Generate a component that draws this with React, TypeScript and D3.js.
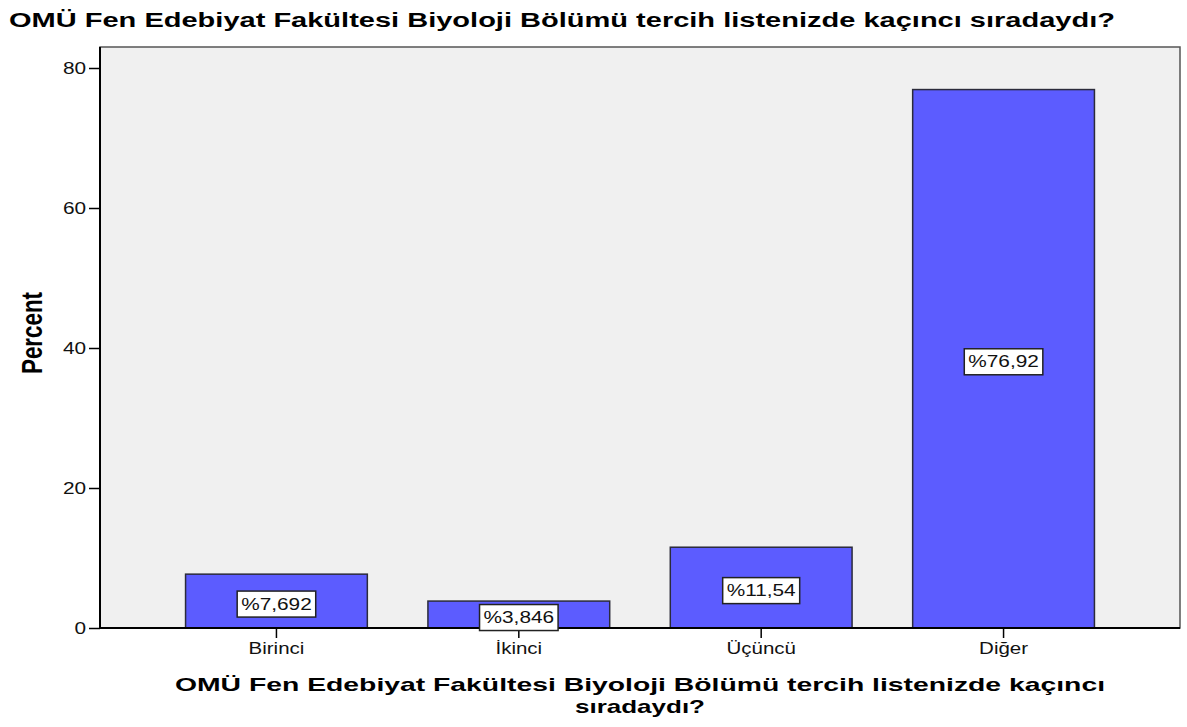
import React, { useRef, useEffect } from 'react';
import * as d3 from 'd3';

const categories = ['Birinci', 'İkinci', 'Üçüncü', 'Diğer'];
const percents = [7.692, 3.846, 11.54, 76.92];
const barLabels = ['%7,692', '%3,846', '%11,54', '%76,92'];
const yTicks = [0, 20, 40, 60, 80];

const title = 'OMÜ Fen Edebiyat Fakültesi Biyoloji Bölümü tercih listenizde kaçıncı sıradaydı?';
const xTitle1 = 'OMÜ Fen Edebiyat Fakültesi Biyoloji Bölümü tercih listenizde kaçıncı';
const xTitle2 = 'sıradaydı?';
const yTitle = 'Percent';

const font = "'Liberation Sans', Arial, sans-serif";

// the source picture is stretched sideways, so text is widened to match
const stretch = (sel: any, k: number) => {
  sel.each(function (this: any) {
    const len = this.getComputedTextLength();
    d3.select(this).attr('textLength', len * k).attr('lengthAdjust', 'spacingAndGlyphs');
  });
};

const App = () => {
  const svgRef = useRef<SVGSVGElement>(null);

  useEffect(() => {
    const svg = d3.select(svgRef.current);
    svg.selectAll('*').remove();

    const width = 1187;
    const height = 727;
    const plot = { left: 100, right: 1180, top: 47, bottom: 628 };

    svg.append('rect').attr('width', width).attr('height', height).attr('fill', '#fff');

    const x = d3.scaleBand<string>()
      .domain(categories)
      .range([plot.left, plot.right])
      .paddingInner(0.25)
      .paddingOuter(0.353);

    const y = d3.scaleLinear()
      .domain([0, 83])
      .range([plot.bottom, plot.top]);

    // plot background + frame
    svg.append('rect')
      .attr('x', plot.left).attr('y', plot.top)
      .attr('width', plot.right - plot.left).attr('height', plot.bottom - plot.top)
      .attr('fill', '#f0f0f0')
      .attr('stroke', '#555').attr('stroke-width', 1.5);

    // title
    svg.append('text')
      .attr('x', 9).attr('y', 27)
      .style('font-family', font).style('font-weight', 'bold').style('font-size', '20px')
      .attr('textLength', 1106).attr('lengthAdjust', 'spacingAndGlyphs')
      .text(title);

    // bars
    const data = categories.map((c, i) => ({ c, v: percents[i], label: barLabels[i] }));

    svg.append('g').selectAll('rect').data(data).join('rect')
      .attr('x', d => x(d.c)!)
      .attr('y', d => y(d.v))
      .attr('width', x.bandwidth())
      .attr('height', d => y(0) - y(d.v))
      .attr('fill', '#5c5cff')
      .attr('stroke', '#2b2b3a')
      .attr('stroke-width', 1.5);

    // axes
    const yAxis = svg.append('g')
      .attr('transform', `translate(${plot.left},0)`)
      .call(d3.axisLeft(y).tickValues(yTicks).tickSize(11).tickPadding(3).tickSizeOuter(0));
    yAxis.select('.domain').remove();
    yAxis.selectAll('.tick line').attr('stroke', '#000').attr('stroke-width', 1.5);
    const yTickText = yAxis.selectAll('.tick text')
      .style('font-family', font).style('font-size', '16px').attr('fill', '#111');
    stretch(yTickText, 1.3);

    const xAxis = svg.append('g')
      .attr('transform', `translate(0,${plot.bottom})`)
      .call(d3.axisBottom(x).tickSize(10).tickPadding(5).tickSizeOuter(0));
    xAxis.select('.domain').remove();
    xAxis.selectAll('.tick line').attr('stroke', '#000').attr('stroke-width', 1.5);
    const xTickText = xAxis.selectAll('.tick text')
      .style('font-family', font).style('font-size', '16px').attr('fill', '#111');
    stretch(xTickText, 1.28);

    svg.append('line')
      .attr('x1', plot.left).attr('x2', plot.left)
      .attr('y1', plot.top).attr('y2', plot.bottom + 1)
      .attr('stroke', '#000').attr('stroke-width', 2);
    svg.append('line')
      .attr('x1', plot.left - 1).attr('x2', plot.right)
      .attr('y1', plot.bottom).attr('y2', plot.bottom)
      .attr('stroke', '#000').attr('stroke-width', 2);

    // value labels
    const lab = svg.append('g').selectAll('g').data(data).join('g')
      .attr('transform', d => `translate(${x(d.c)! + x.bandwidth() / 2},${(y(0) + y(d.v)) / 2 + 3})`);
    const labRect = lab.append('rect');
    const labText = lab.append('text')
      .attr('text-anchor', 'middle').attr('dy', '0.35em')
      .style('font-family', font).style('font-size', '16px').attr('fill', '#111')
      .text(d => d.label);
    stretch(labText, 1.3);
    labRect.each(function (this: any, _d: any, i: number) {
      const w = +(labText.nodes()[i] as any).getAttribute('textLength') + 8;
      d3.select(this)
        .attr('x', -w / 2).attr('y', -13)
        .attr('width', w).attr('height', 26)
        .attr('fill', '#fff').attr('stroke', '#222').attr('stroke-width', 1.5);
    });

    // axis titles
    svg.append('text')
      .attr('x', 640).attr('y', 691).attr('text-anchor', 'middle')
      .style('font-family', font).style('font-weight', 'bold').style('font-size', '19px')
      .attr('textLength', 930).attr('lengthAdjust', 'spacingAndGlyphs')
      .text(xTitle1);
    svg.append('text')
      .attr('x', 640).attr('y', 713).attr('text-anchor', 'middle')
      .style('font-family', font).style('font-weight', 'bold').style('font-size', '19px')
      .attr('textLength', 130).attr('lengthAdjust', 'spacingAndGlyphs')
      .text(xTitle2);

    svg.append('text')
      .attr('transform', 'translate(42,333) scale(1.35,1) rotate(-90)')
      .attr('text-anchor', 'middle')
      .style('font-family', font).style('font-weight', 'bold').style('font-size', '22px')
      .attr('textLength', 82).attr('lengthAdjust', 'spacingAndGlyphs')
      .text(yTitle);
  }, []);

  return (
    <svg ref={svgRef} width={1187} height={727}
      style={{ position: 'absolute', left: 0, top: 0, display: 'block' }} />
  );
};

export default App;
